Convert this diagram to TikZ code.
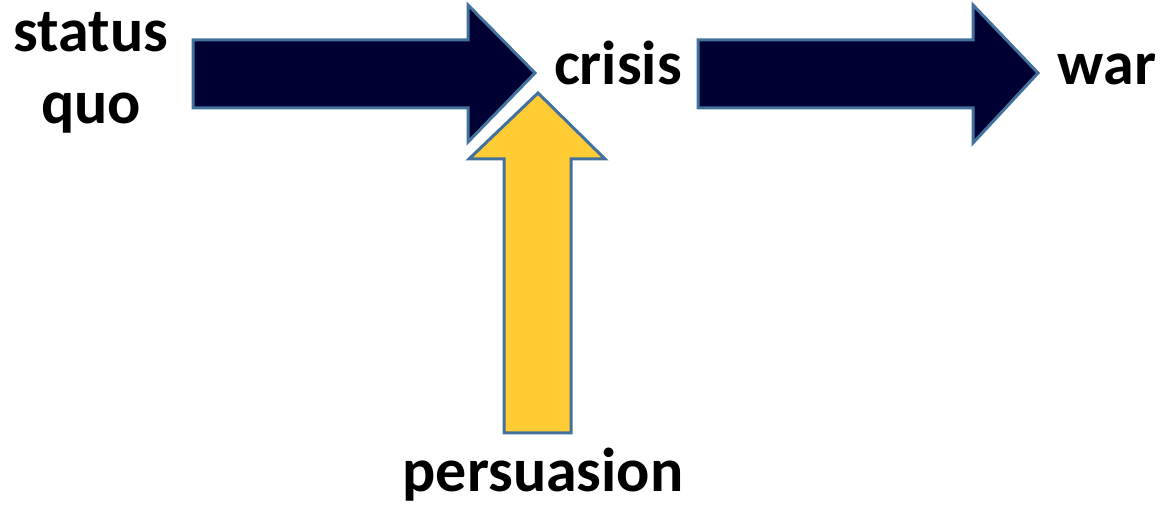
\documentclass[tikz,border=0pt]{standalone}
\usepackage{fontspec}
\setmainfont{Carlito}
\usepackage{xcolor}
\definecolor{navyfill}{HTML}{000033}
\definecolor{goldfill}{HTML}{FFCC33}
\definecolor{edgeblue}{HTML}{41719C}

\begin{document}
\begin{tikzpicture}[x=0.5pt, y=-0.5pt,
    block/.style={draw=edgeblue, line width=1.5pt, line join=miter},
    label/.style={font=\fontsize{31}{36}\selectfont\bfseries, inner sep=0pt, align=center}]
    \useasboundingbox (0,0) rectangle (1168,507);

    % block arrows
    \draw[block, fill=navyfill] (193,40) -- (468,40) -- (468,5) -- (535,73) -- (468,142) -- (468,108) -- (193,108) -- cycle;
    \draw[block, fill=navyfill] (698,40) -- (973,40) -- (973,5) -- (1038,73) -- (973,143) -- (973,108) -- (698,108) -- cycle;
    \draw[block, fill=goldfill] (504,433) -- (504,159) -- (469,159) -- (538,93) -- (605,159) -- (571,159) -- (571,433) -- cycle;

    % labels
    \node[label, anchor=base] (statusquo)  at (91,124)  {status\\quo};
    \node[label, anchor=base] (crisis)     at (618,85)  {crisis};
    \node[label, anchor=base] (war)        at (1107,85) {war};
    \node[label, anchor=base] (persuasion) at (543,492) {persuasion};
\end{tikzpicture}
\end{document}
